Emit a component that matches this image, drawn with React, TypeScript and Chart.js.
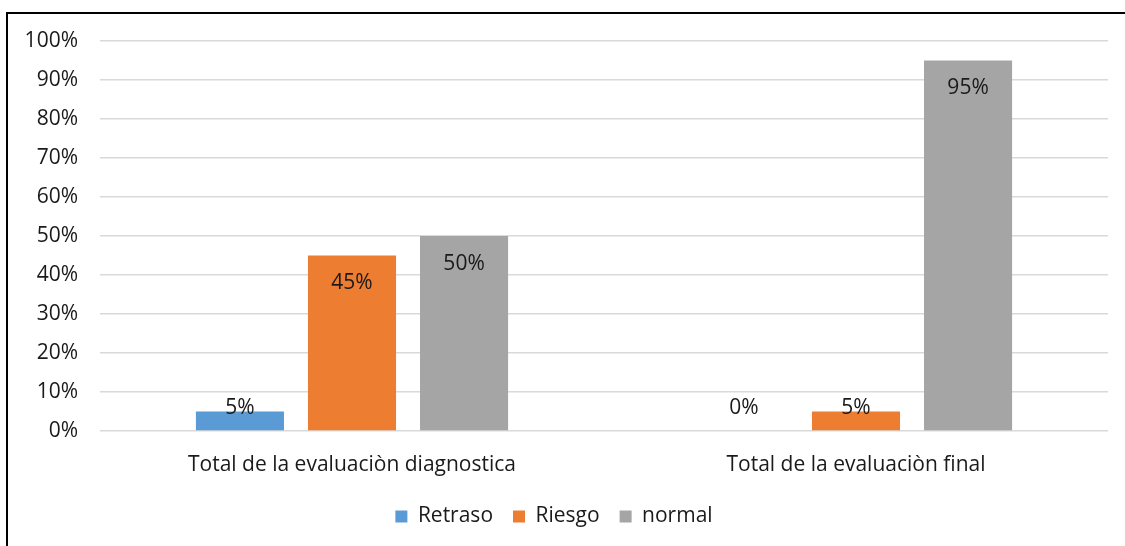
import React, { useEffect, useRef } from "react";
import { Chart, registerables } from "chart.js";

Chart.register(...registerables);

const categories = ["Total de la evaluaciòn diagnostica", "Total de la evaluaciòn final"];
const seriesNames = ["Retraso", "Riesgo", "normal"];
const retraso = [5, 0];
const riesgo = [45, 5];
const normal = [50, 95];
const seriesColors = ["#5B9BD5", "#ED7D31", "#A5A5A5"];
const yTicks = [0, 10, 20, 30, 40, 50, 60, 70, 80, 90, 100];

const FONT = "'Open Sans', Lato, sans-serif";
const FS = 21;
const TEXT = "#1a1a1a";

const labelPlugin = {
  id: "valueLabels",
  afterDatasetsDraw(chart: any) {
    const ctx = chart.ctx;
    const base = chart.scales.y.getPixelForValue(0);
    ctx.save();
    ctx.font = `${FS}px ${FONT}`;
    ctx.fillStyle = TEXT;
    ctx.textAlign = "center";
    ctx.textBaseline = "middle";
    chart.data.datasets.forEach((ds: any, i: number) => {
      const meta = chart.getDatasetMeta(i);
      meta.data.forEach((bar: any, j: number) => {
        const v = ds.data[j];
        const y = Math.min(bar.y + 28, base - 23);
        ctx.fillText(`${v}%`, bar.x, y);
      });
    });
    ctx.restore();
  },
};

export default function App() {
  const ref = useRef<HTMLCanvasElement>(null);
  useEffect(() => {
    if (!ref.current) return;
    const data = [retraso, riesgo, normal];
    const chart = new Chart(ref.current, {
      type: "bar",
      data: {
        labels: categories,
        datasets: seriesNames.map((n, i) => ({
          label: n,
          data: data[i],
          backgroundColor: seriesColors[i],
          borderWidth: 0,
          barPercentage: 0.786,
          categoryPercentage: 0.667,
        })),
      },
      options: {
        animation: false,
        responsive: false,
        maintainAspectRatio: false,
        layout: { padding: { top: 41, right: 17, bottom: 9, left: 0 } },
        scales: {
          x: {
            grid: { display: false, drawTicks: false },
            border: { display: false },
            ticks: { color: TEXT, font: { family: FONT, size: FS }, padding: 21, maxRotation: 0 },
            afterFit: (s: any) => { s.height = 55; },
          },
          y: {
            min: 0,
            max: 100,
            afterBuildTicks: (s: any) => { s.ticks = yTicks.map((v) => ({ value: v })); },
            grid: { color: "#D9D9D9", lineWidth: 1.5, drawTicks: false },
            border: { display: false },
            ticks: {
              color: TEXT,
              font: { family: FONT, size: FS },
              padding: 22,
              callback: (v: any) => `${v}%`,
            },
            afterFit: (s: any) => { s.width = 100; },
          },
        },
        plugins: {
          legend: {
            position: "bottom",
            labels: {
              color: TEXT,
              font: { family: FONT, size: FS },
              boxWidth: 12,
              boxHeight: 12,
              padding: 20,
            },
          },
          tooltip: { enabled: false },
        },
      },
      plugins: [labelPlugin],
    });
    return () => chart.destroy();
  }, []);
  return (
    <div style={{ position: "fixed", left: 0, top: 0, width: 1125, height: 546, background: "#fff" }}>
      <canvas ref={ref} width={1125} height={546} style={{ position: "absolute", left: 0, top: 0 }} />
      <div style={{ position: "absolute", left: 6, top: 12, width: 1119, height: 2, background: "#000" }} />
      <div style={{ position: "absolute", left: 6, top: 12, width: 2, height: 534, background: "#000" }} />
    </div>
  );
}
